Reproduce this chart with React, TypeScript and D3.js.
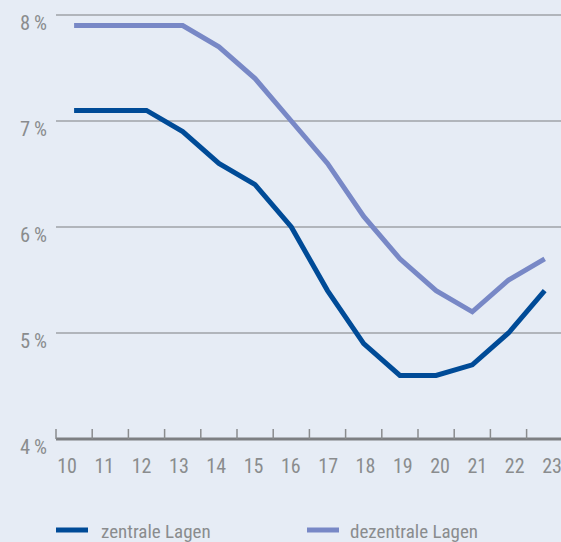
import React from "react";
import * as d3 from "d3";

const years = [10, 11, 12, 13, 14, 15, 16, 17, 18, 19, 20, 21, 22, 23];
const zentrale = [7.1, 7.1, 7.1, 6.9, 6.6, 6.4, 6.0, 5.4, 4.9, 4.6, 4.6, 4.7, 5.0, 5.4];
const dezentrale = [7.9, 7.9, 7.9, 7.9, 7.7, 7.4, 7.0, 6.6, 6.1, 5.7, 5.4, 5.2, 5.5, 5.7];
const yTicks = [4, 5, 6, 7, 8];
const seriesNames = ["zentrale Lagen", "dezentrale Lagen"];

const W = 561, H = 542;
const FONT = "'Liberation Sans Narrow', 'Roboto Condensed', 'Open Sans', sans-serif";

export default function App() {
  const x = d3.scaleLinear().domain([10, 23]).range([74.1, 544.7]);
  const xLab = d3.scaleLinear().domain([10, 23]).range([67, 552]);
  const y = d3.scaleLinear().domain([4, 8]).range([439, 15]);
  const half = (x(11) - x(10)) / 2;
  const line = d3.line<number>().x((_, i) => x(years[i])).y((d) => y(d));
  const textCol = "#8a8c8e";
  const c1 = "#004b97", c2 = "#7888c6";
  return (
    <div style={{ position: "fixed", left: 0, top: 0 }}>
      <svg width={W} height={H} style={{ display: "block", background: "#e6ecf5" }}>
        <rect width={W} height={H} fill="#e6ecf5" />
        {yTicks.filter((t) => t > 4).map((t) => (
          <line key={t} x1={56} x2={W} y1={y(t)} y2={y(t)} stroke="#7d7f82" strokeWidth={1.2} />
        ))}
        {yTicks.map((t) => (
          <text key={t} x={47} y={y(t) + 14.5} textAnchor="end" fontFamily={FONT} fontSize={20.5} fill={textCol}>
            {t}{"\u2009"}%
          </text>
        ))}
        <line x1={56} x2={W} y1={y(4)} y2={y(4)} stroke="#7d7f82" strokeWidth={3} />
        {years.map((v) => (
          <line key={v} x1={x(v) - half} x2={x(v) - half} y1={y(4)} y2={y(4) - 10} stroke="#8a8c8e" strokeWidth={1.5} />
        ))}
        {years.map((v) => (
          <text key={v} x={xLab(v)} y={473} textAnchor="middle" fontFamily={FONT} fontSize={20} fill={textCol}>
            {v}
          </text>
        ))}
        <path d={line(dezentrale) || ""} fill="none" stroke={c2} strokeWidth={5} strokeLinejoin="miter" />
        <path d={line(zentrale) || ""} fill="none" stroke={c1} strokeWidth={5} strokeLinejoin="miter" />
        <line x1={56} x2={88} y1={530} y2={530} stroke={c1} strokeWidth={5} />
        <text x={101} y={538} fontFamily={FONT} fontSize={19} fill={textCol}>{seriesNames[0]}</text>
        <line x1={307} x2={339} y1={530} y2={530} stroke={c2} strokeWidth={5} />
        <text x={350} y={538} fontFamily={FONT} fontSize={19} fill={textCol}>{seriesNames[1]}</text>
      </svg>
    </div>
  );
}
